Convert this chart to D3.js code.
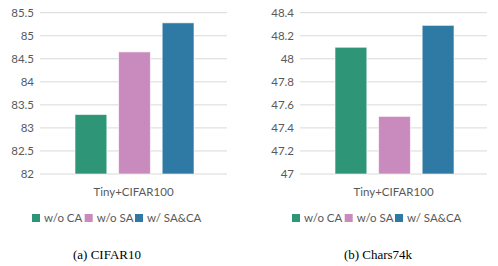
<!DOCTYPE html>
<html>
<head>
<meta charset="utf-8">
<script src="https://cdn.jsdelivr.net/npm/d3@7"></script>
<style>
  body { margin: 0; background: #fff; }
  svg { display: block; }
  .tick text { font-family: Lato, "Open Sans", sans-serif; font-size: 11.5px; fill: #595959; }
  .lab { font-family: Lato, "Open Sans", sans-serif; font-size: 11.5px; fill: #595959; }
  .cap { font-family: "Liberation Serif", "DejaVu Serif", serif; font-size: 13px; fill: #000; }
</style>
</head>
<body>
<svg id="chart" width="498" height="266"></svg>
<script>
// data
const category = "Tiny+CIFAR100";
const seriesNames = ["w/o CA", "w/o SA", "w/ SA&CA"];
const colors = ["#2e9577", "#c98bbd", "#2e7aa5"];
const cifarValues = [83.29, 84.65, 85.28];
const charsValues = [48.1, 47.5, 48.29];
const cifarTicks = [82, 82.5, 83, 83.5, 84, 84.5, 85, 85.5];
const charsTicks = [47, 47.2, 47.4, 47.6, 47.8, 48, 48.2, 48.4];
const captions = ["(a) CIFAR10", "(b) Chars74k"];

const svg = d3.select("#chart");

function drawPanel(g, values, ticks, fmt, caption, capX) {
  let x0 = 40, x1 = 227, yTop = 12.7, yBot = 174;
  let y = d3.scaleLinear().domain([ticks[0], ticks[ticks.length - 1]]).range([yBot, yTop]);
  let x = d3.scaleBand().domain(seriesNames).range([75, 194]).paddingInner(0.27).paddingOuter(0);

  // gridlines
  g.selectAll(".grid").data(ticks).join("line")
    .attr("x1", x0).attr("x2", x1)
    .attr("y1", d => y(d)).attr("y2", d => y(d))
    .attr("stroke", "#d9d9d9").attr("stroke-width", 1);

  let axis = g.append("g").attr("transform", `translate(${x0 - 6},0)`)
    .call(d3.axisLeft(y).tickValues(ticks).tickFormat(fmt).tickSize(0).tickPadding(0));
  axis.select(".domain").remove();

  g.selectAll(".bar").data(values).join("rect")
    .attr("x", (d, i) => x(seriesNames[i]))
    .attr("y", d => y(d))
    .attr("width", x.bandwidth())
    .attr("height", d => yBot - y(d))
    .attr("fill", (d, i) => colors[i])
    .attr("stroke", "#ffffff").attr("stroke-opacity", 0.6).attr("stroke-width", 1);

  g.append("text").attr("class", "lab")
    .attr("x", (x0 + x1) / 2).attr("y", 196)
    .attr("text-anchor", "middle").text(category);

  // legend
  let leg = g.append("g").attr("transform", "translate(32,221)");
  let offs = [0, 52.7, 103];
  seriesNames.forEach((s, i) => {
    leg.append("rect").attr("x", offs[i]).attr("y", -7).attr("width", 8).attr("height", 8).attr("fill", colors[i]);
    leg.append("text").attr("class", "lab").attr("x", offs[i] + 12).attr("y", 1).text(s);
  });

  g.append("text").attr("class", "cap")
    .attr("x", capX).attr("y", 259)
    .attr("text-anchor", "middle").text(caption);
}

drawPanel(svg.append("g"), cifarValues, cifarTicks, d3.format(""), captions[0], 107);
drawPanel(svg.append("g").attr("transform", "translate(260,0)"), charsValues, charsTicks, d3.format(".1~f"), captions[1], 118);
</script>
</body>
</html>
